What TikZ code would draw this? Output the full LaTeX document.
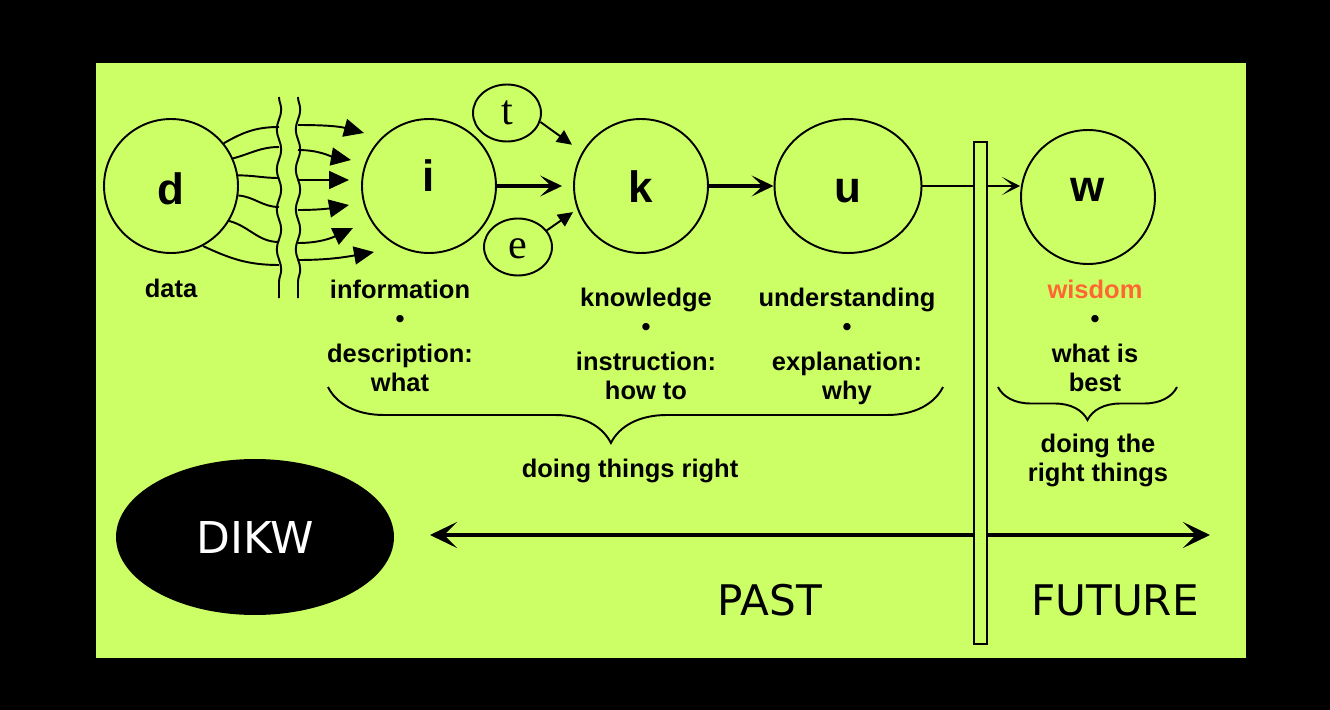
\documentclass[tikz,border=0pt]{standalone}
\usepackage{fontspec}
\setmainfont{Liberation Sans}
\newfontfamily\timesfont{Liberation Serif}
\newfontfamily\verdfont{DejaVu Sans}
\usetikzlibrary{arrows.meta,shapes.geometric,decorations.pathreplacing,decorations.pathmorphing}
\definecolor{lime}{RGB}{204,255,102}
\definecolor{wisdomcol}{RGB}{255,102,51}
\tikzset{
  ball/.style={draw, ellipse, line width=1.1pt, minimum width=2.68cm, minimum height=2.68cm,
    inner sep=0pt, text height=0.8cm, font=\fontsize{25}{25}\selectfont\bfseries},
  blob/.style={draw, ellipse, line width=1.1pt, minimum width=1.36cm, minimum height=1.14cm,
    inner sep=0pt, text height=0.5cm, font=\timesfont\fontsize{24}{24}\selectfont},
  lbl/.style={font=\fontsize{14.5}{16.5}\selectfont\bfseries, align=center, inner sep=0pt},
  big/.style={font=\verdfont\fontsize{24}{24}\selectfont, inner sep=0pt},
  thinline/.style={line width=1.1pt},
  dart/.style={-{Triangle[length=4mm,width=3.6mm]}, line width=1.1pt},
  fat/.style={-{Stealth[length=4.4mm,width=4.2mm,inset=2.2mm]}, line width=2.2pt},
  wave/.style={line width=1.1pt, decorate, decoration={snake, segment length=8mm, amplitude=0.45mm}},
  brc/.style={line width=1.1pt, decorate, decoration={brace, mirror, amplitude=#1}},
}
\begin{document}
\begin{tikzpicture}[x=0.02cm, y=-0.02cm]
\fill[black] (0,0) rectangle (1330,710);
\fill[lime] (96,63) rectangle (1246,658);
\useasboundingbox (0,0) rectangle (1330,710);

\node[ball, text depth=0.04cm] (d) at (171,186) {d};
\node[ball, text depth=0.58cm] (i) at (429,186) {i};
\node[ball, text depth=0.12cm] (k) at (641,186) {k};
\node[ball, text depth=0.12cm, minimum width=2.94cm] (u) at (848,186) {u};
\node[ball, text depth=0.6cm] (w) at (1088,197) {w};
\node[blob, text depth=0.02cm] (t) at (507,113) {t};
\node[blob, text depth=0.05cm] (e) at (518,247) {e};

% d through the wall to i
\draw[wave] (279,97) -- (279,298);
\draw[wave] (298,97) -- (298,298);
\foreach \n/\a/\o/\y in {1/39/30/127, 2/24/15/147, 3/9/0/178, 4/-8/-5/207, 5/-31/-15/242, 6/-62/-25/265}{
  \coordinate (wl\n) at (279,\y);
  \draw[thinline] (d.\a) to[out=\o, in=180] (wl\n);
}
\foreach \n/\y/\tx/\ty/\ang in {1/125/364/133/165, 2/150/351/160/170, 3/180/349/180/180, 4/210/349/205/190, 5/243/353/228/205, 6/260/374/252/190}{
  \coordinate (wr\n) at (298,\y);
  \coordinate (ti\n) at (\tx,\ty);
  \draw[dart] (wr\n) to[out=0, in=\ang] (ti\n);
}

\draw[fat, shorten >=0.22cm] (i) -- (k);
\draw[fat] (k) -- (u);
\draw[-{Triangle[length=3mm,width=2.8mm]}, thinline, shorten >=0.25cm] (t.-15) -- (k.150);
\draw[-{Triangle[length=3mm,width=2.8mm]}, thinline, shorten >=0.1cm] (e.30) -- (k.200);
\draw[-{Stealth[length=3.6mm,width=3.6mm,inset=2.2mm]}, thinline] (u.east) -- (w.west |- u.east);

\node[lbl] (data) at (171,288) {data};
\node[lbl, anchor=north] (infotxt) at (400,280) {information\\•\\[3.4pt]description:\\what};
\node[lbl, anchor=north] (knowtxt) at (646,288) {knowledge\\•\\[3.4pt]instruction:\\how to};
\node[lbl, anchor=north] (undtxt) at (847,288) {understanding\\•\\[3.4pt]explanation:\\why};
\node[lbl, anchor=north] (wistxt) at (1095,280) {\textcolor{wisdomcol}{wisdom}\\•\\[3.4pt]what is\\best};

\draw[brc=1.12cm, decoration={aspect=0.46}] (328,387) -- (943,387);
\draw[brc=0.66cm] (998,387) -- (1177,387);
\node[lbl] (right) at (630,471) {doing things right};
\node[lbl, anchor=north] (things) at (1098,434) {doing the\\right things};

% time line
\node[ellipse, fill=black, minimum width=5.56cm, minimum height=3.12cm, inner sep=0pt,
  text=white, font=\verdfont\fontsize{25}{25}\selectfont] (dikw) at (255,537) {DIKW};
\coordinate (past) at (430,535);
\coordinate (future) at (1210,535);
\draw[{Stealth[length=5.4mm,width=5.2mm,inset=2.6mm]}-{Stealth[length=5.4mm,width=5.2mm,inset=2.6mm]}, line width=2.3pt] (past) -- (future);
\node[big] (pasttxt) at (770,600) {PAST};
\node[big] (futtxt) at (1115,600) {FUTURE};

\draw[thinline, fill=lime] (974,142) rectangle (987,644);
\end{tikzpicture}
\end{document}
